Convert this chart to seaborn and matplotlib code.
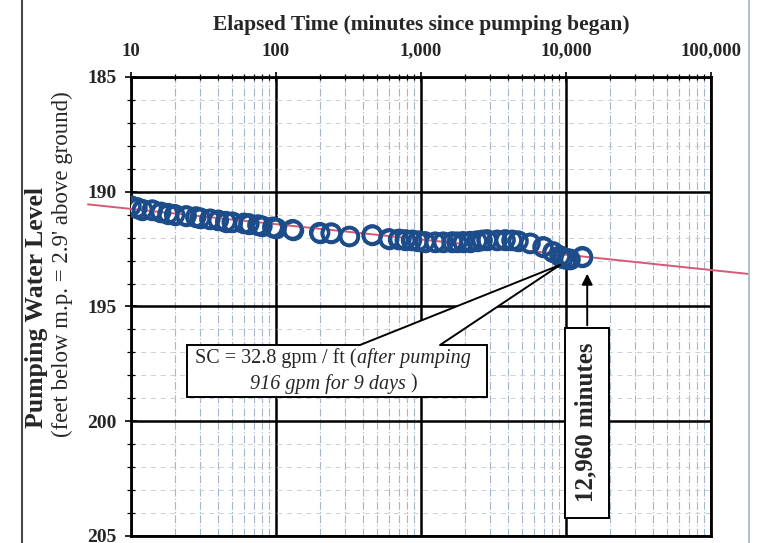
import numpy as np
import pandas as pd
import seaborn as sns
import matplotlib.pyplot as plt
from matplotlib.lines import Line2D
from matplotlib.patches import Rectangle, Polygon
from matplotlib.ticker import FixedLocator, LogLocator, MultipleLocator, NullFormatter

# Pumping test readings (minutes since pumping began, ft below m.p.)
elapsed_min = [10, 11, 12, 14, 16, 18, 20, 24, 28, 30, 35, 40, 45, 50, 60, 65, 75, 80, 95,
               100, 130, 200, 240, 320, 460, 600, 700, 780, 860, 950, 1060,
               1250, 1420, 1640, 1770, 1950, 2180, 2430, 2640, 2850, 3340, 3800, 4240, 4670,
               5650, 6940, 8130, 9100, 9530, 10160, 10660, 12960]
water_level = [190.62, 190.70, 190.78, 190.80, 190.90, 190.95, 191.00, 191.05, 191.10, 191.15,
               191.20, 191.25, 191.30, 191.33, 191.38, 191.40, 191.45, 191.50, 191.55,
               191.60, 191.65, 191.78, 191.80, 191.95, 191.88, 192.05, 192.08, 192.10, 192.12,
               192.15, 192.18,
               192.20, 192.20, 192.19, 192.20, 192.18, 192.17, 192.15, 192.12, 192.10, 192.12,
               192.10, 192.12, 192.15, 192.25, 192.40, 192.62, 192.80, 192.88, 192.92, 192.95,
               192.83]

# straight-line fit (red)
fit_min = [5.05, 180000]
fit_level = [190.55, 193.58]

x_ticks = [10, 100, 1000, 10000, 100000]
x_tick_labels = ["10", "100", "1,000", "10,000", "100,000"]
y_ticks = [185, 190, 195, 200, 205]
y_tick_labels = ["185", "190", "195", "200", "205"]

blue = "#1d4c8a"
red = "#d65a74"

sns.set_style("white")
plt.rcParams["font.family"] = ["Liberation Serif", "DejaVu Serif"]

fig = plt.figure(figsize=(7.59, 5.43), dpi=100)
ax = fig.add_axes([0.1726, 0.0129, 0.7642, 0.8453])

df = pd.DataFrame({"minutes": elapsed_min, "level": water_level})

sns.scatterplot(data=df, x="minutes", y="level", ax=ax, marker="o", s=165,
                facecolor="white", edgecolor=blue, linewidth=2.6, zorder=3)
sns.lineplot(x=fit_min, y=fit_level, ax=ax, color=red, lw=1.4, clip_on=False, zorder=4)
ax.scatter(df["minutes"], df["level"], marker="o", s=165, facecolors="none",
           edgecolors=blue, linewidths=2.6, zorder=5)

ax.set_xscale("log")
ax.set_xlim(10, 100000)
ax.set_ylim(205, 185)
ax.set_xlabel("")
ax.set_ylabel("")

ax.xaxis.set_major_locator(FixedLocator(x_ticks))
ax.set_xticklabels(x_tick_labels)
ax.xaxis.set_minor_locator(LogLocator(base=10, subs=np.arange(2, 10)))
ax.xaxis.set_minor_formatter(NullFormatter())
ax.yaxis.set_major_locator(FixedLocator(y_ticks))
ax.set_yticklabels(y_tick_labels)
ax.yaxis.set_minor_locator(MultipleLocator(1))

ax.grid(which="major", color="black", lw=1.8, zorder=1)
ax.grid(which="minor", axis="x", color="#a7b5ca", lw=0.8, ls=(0, (7, 2, 1, 2)))
ax.grid(which="minor", axis="y", color="#c9d0da", lw=0.7, ls=(0, (5, 5)))
ax.set_axisbelow(True)

ax.tick_params(axis="x", which="both", top=True, bottom=False, labeltop=True,
               labelbottom=False, direction="inout", color="black")
ax.tick_params(axis="x", which="major", length=7, width=1.2, pad=9,
               labelsize=13.5)
ax.tick_params(axis="x", which="minor", length=5, width=0.9)
ax.tick_params(axis="y", which="both", left=True, direction="inout", color="black")
ax.tick_params(axis="y", which="major", length=9, width=1.2, pad=6, labelsize=14)
ax.tick_params(axis="y", which="minor", length=6, width=0.9)
for lab in ax.get_xticklabels() + ax.get_yticklabels():
    lab.set_fontweight("bold")

for sp in ax.spines.values():
    sp.set_color("black")
    sp.set_linewidth(2.0)

# SC callout box
ax.add_patch(Rectangle((24.3, 196.68), 2850 - 24.3, 2.26, facecolor="white",
                       edgecolor="black", lw=1.4, zorder=6))
ax.add_patch(Polygon([(379, 196.95), (379, 196.68), (9100, 193.19), (1352, 196.68),
                      (1352, 196.95)], closed=True, facecolor="white",
                     edgecolor="none", zorder=6.5))
ax.plot([379, 9100, 1352], [196.68, 193.19, 196.68], color="black", lw=1.4, zorder=7)

t1 = ax.text(27.6, 197.24, "SC = 32.8 gpm / ft (", ha="left", va="center",
             fontsize=14.5, zorder=8)
ax.annotate("after pumping", xy=(1, 0), xycoords=t1, ha="left", va="bottom",
            fontsize=14.5, style="italic", zorder=8)
t3 = ax.text(66, 198.36, "916 gpm for 9 days", ha="left", va="center",
             fontsize=14.5, style="italic", zorder=8)
ax.annotate(" )", xy=(1, 0), xycoords=t3, ha="left", va="bottom",
            fontsize=14.5, zorder=8)

# 12,960 minutes label with arrow
ax.add_patch(Rectangle((9840, 195.94), 19800 - 9840, 8.28, facecolor="white",
                       edgecolor="black", lw=1.4, zorder=6))
ax.text(13600, 200.05, "12,960 minutes", rotation=90, ha="center", va="center",
        fontsize=18, fontweight="bold", zorder=8)
ax.annotate("", xy=(14000, 193.45), xytext=(14000, 195.94),
            arrowprops=dict(arrowstyle="-|>", color="black", lw=1.4,
                            mutation_scale=16), zorder=8)

# titles
fig.text(421 / 759, 1 - 25 / 543, "Elapsed Time (minutes since pumping began)",
         ha="center", va="center", fontsize=15.5, fontweight="bold")
fig.text(37 / 759, 1 - 307 / 543, "Pumping Water Level", rotation=90,
         ha="center", va="center", fontsize=18.5, fontweight="bold")
fig.text(62 / 759, 1 - 264 / 543, "(feet below m.p. = 2.9' above ground)",
         rotation=90, ha="center", va="center", fontsize=16.5)

# page border lines from the scanned report
fig.add_artist(Line2D([22 / 759, 22 / 759], [0, 1], transform=fig.transFigure,
                      color="#4a4a4a", lw=1.5))
fig.add_artist(Line2D([749 / 759, 749 / 759], [0, 1], transform=fig.transFigure,
                      color="#a3b3c6", lw=1.2))

fig.savefig("out.png", dpi=100)
